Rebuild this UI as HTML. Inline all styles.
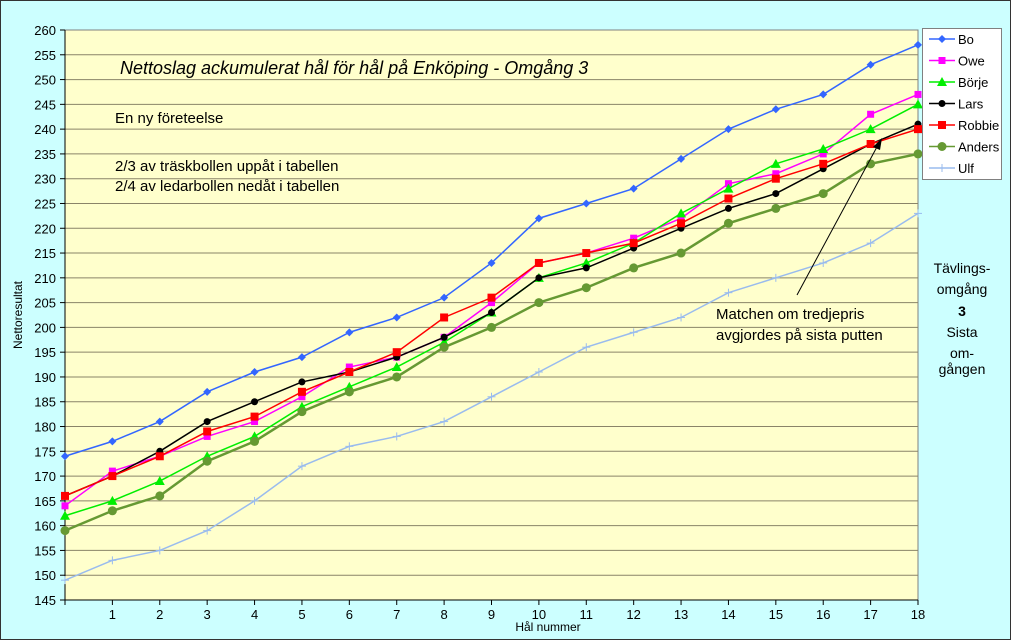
<!DOCTYPE html>
<html><head><meta charset="utf-8"><style>
body{margin:0;background:#ccffff;}
svg{display:block;font-family:"Liberation Sans",sans-serif;}
</style></head><body>
<svg id="s" width="1011" height="640" xmlns="http://www.w3.org/2000/svg">
<rect x="0.5" y="0.5" width="1010" height="639" fill="#ccffff" stroke="#333" stroke-width="1"/>
<rect x="65" y="30" width="853" height="570" fill="#ffffcc" stroke="#808080"/>
<g id="grid"></g>
<g id="series"></g>
<text x="120" y="74" font-size="18" font-style="italic">Nettoslag ackumulerat hål för hål på Enköping - Omgång 3</text>
<text x="115" y="123" font-size="15">En ny företeelse</text>
<text x="115" y="171" font-size="15">2/3 av träskbollen uppåt i tabellen</text>
<text x="115" y="191" font-size="15">2/4 av ledarbollen nedåt i tabellen</text>
<text x="716" y="319" font-size="15">Matchen om tredjepris</text>
<text x="716" y="340" font-size="15">avgjordes på sista putten</text>
<line x1="797" y1="295" x2="878" y2="145" stroke="#000" stroke-width="1"/>
<polygon points="882,138 873,147 880,150" fill="#000"/>
<g font-size="14" text-anchor="middle">
<text x="962" y="273">Tävlings-</text>
<text x="962" y="294">omgång</text>
<text x="962" y="316" font-weight="bold">3</text>
<text x="962" y="337">Sista</text>
<text x="962" y="358">om-</text>
<text x="962" y="374">gången</text>
</g>
<text x="548" y="631" font-size="12" text-anchor="middle">Hål nummer</text>
<text transform="translate(22,315) rotate(-90)" font-size="12" text-anchor="middle">Nettoresultat</text>
<rect x="922.5" y="28.5" width="79" height="151" fill="#fff" stroke="#808080"/>
<g id="legend"></g>
</svg>
<script>
const ns="http://www.w3.org/2000/svg";
function el(p,t,a){const e=document.createElementNS(ns,t);for(const k in a)e.setAttribute(k,a[k]);p.appendChild(e);return e;}
const X=i=>65+i*853/18, Y=v=>30+(260-v)*570/115;
const g=document.getElementById('grid');
for(let v=145;v<=260;v+=5){const y=Y(v);
 if(v>145&&v<260)el(g,'line',{x1:65,x2:918,y1:y,y2:y,stroke:'#8a8468','stroke-width':1});
 el(g,'line',{x1:60,x2:65,y1:y,y2:y,stroke:'#000'});
 const t=el(g,'text',{x:56,y:y+5,'font-size':13,'text-anchor':'end'});t.textContent=v;}
el(g,'line',{x1:65,x2:65,y1:30,y2:605,stroke:'#000'});
el(g,'line',{x1:65,x2:918,y1:600,y2:600,stroke:'#000'});
for(let i=0;i<=18;i++){const x=X(i);el(g,'line',{x1:x,x2:x,y1:600,y2:605,stroke:'#000'});
 if(i>0){const t=el(g,'text',{x:x,y:619,'font-size':13,'text-anchor':'middle'});t.textContent=i;}}
const S=[
["Bo","#3366ff","dia",[174,177,181,187,191,194,199,202,206,213,222,225,228,234,240,244,247,253,257]],
["Owe","#ff00ff","sq",[164,171,174,178,181,186,192,194,198,205,213,215,218,222,229,231,235,243,247]],
["Börje","#00ee00","tri",[162,165,169,174,178,184,188,192,197,203,210,213,217,223,228,233,236,240,245]],
["Lars","#000000","circ",[166,170,175,181,185,189,191,194,198,203,210,212,216,220,224,227,232,237,241]],
["Robbie","#ff0000","bsq",[166,170,174,179,182,187,191,195,202,206,213,215,217,221,226,230,233,237,240]],
["Anders","#669933","bcirc",[159,163,166,173,177,183,187,190,196,200,205,208,212,215,221,224,227,233,235]],
["Ulf","#99bbee","plus",[149,153,155,159,165,172,176,178,181,186,191,196,199,202,207,210,213,217,223]]];
function mk(p,type,c,x,y){
 if(type=="dia")el(p,'polygon',{points:`${x},${y-4} ${x+4},${y} ${x},${y+4} ${x-4},${y}`,fill:c});
 else if(type=="sq")el(p,'rect',{x:x-3.5,y:y-3.5,width:7,height:7,fill:c});
 else if(type=="bsq")el(p,'rect',{x:x-4,y:y-4,width:8,height:8,fill:c});
 else if(type=="tri")el(p,'polygon',{points:`${x},${y-5} ${x+5},${y+4} ${x-5},${y+4}`,fill:c});
 else if(type=="circ")el(p,'circle',{cx:x,cy:y,r:3.5,fill:c});
 else if(type=="bcirc")el(p,'circle',{cx:x,cy:y,r:4.5,fill:c});
 else {el(p,'line',{x1:x-4,x2:x+4,y1:y,y2:y,stroke:c});el(p,'line',{x1:x,x2:x,y1:y-4,y2:y+4,stroke:c});}
}
const sg=document.getElementById('series'),lg=document.getElementById('legend');
S.forEach((s,k)=>{const pts=s[3].map((v,i)=>X(i)+','+Y(v)).join(' ');
 el(sg,'polyline',{points:pts,fill:'none',stroke:s[1],'stroke-width':s[2]=="bcirc"?2.5:1.5});
 s[3].forEach((v,i)=>mk(sg,s[2],s[1],X(i),Y(v)));
 const y=39+k*21.5;el(lg,'line',{x1:929,x2:955,y1:y,y2:y,stroke:s[1],'stroke-width':1.5});
 mk(lg,s[2],s[1],942,y);
 const t=el(lg,'text',{x:958,y:y+5,'font-size':13});t.textContent=s[0];});
</script>
</body></html>
